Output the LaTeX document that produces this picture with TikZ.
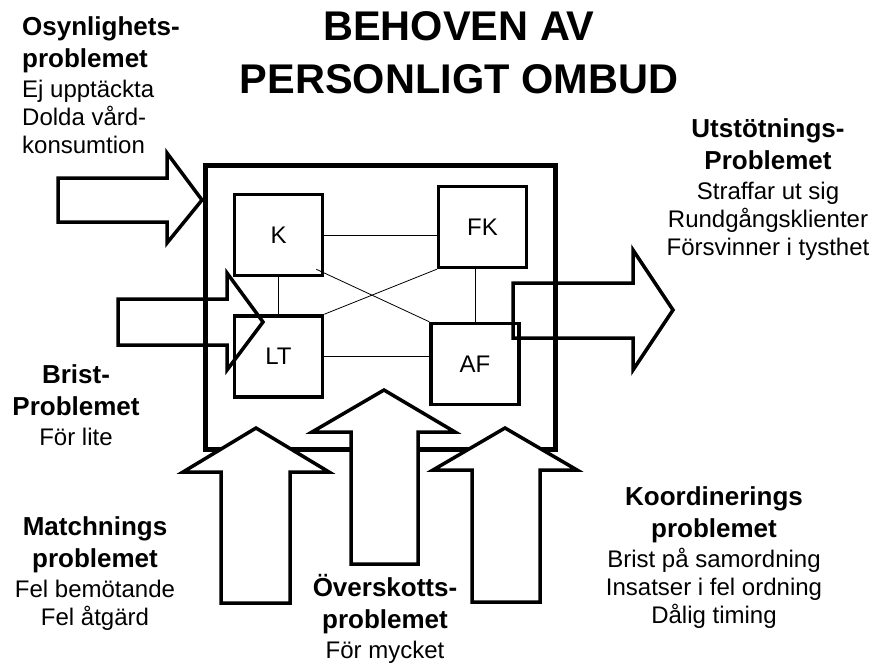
\documentclass[tikz,border=0pt]{standalone}
\usepackage{fontspec}
\setmainfont{Liberation Sans}
\newcommand{\hd}[1]{{\fontsize{26}{30}\selectfont\bfseries #1}}

\begin{document}
\begin{tikzpicture}[x=1pt, y=-1pt,
  lbl/.style={font=\fontsize{24}{28}\selectfont, inner sep=0pt, align=center, anchor=base},
  unit/.style={draw, line width=3.5pt, minimum width=88pt, minimum height=81pt, inner sep=0pt, font=\fontsize{24}{28}\selectfont},
  link/.style={line width=0.8pt},
  blockarrow/.style={line width=3.5pt, line join=miter},
  uparrow/.style={blockarrow, fill=white}]
\useasboundingbox (0,0) rectangle (872,664);
\draw (459,93) node[font=\fontsize{41.5}{53}\selectfont\bfseries, align=center, anchor=base, inner sep=0pt] (title) {BEHOVEN AV\\PERSONLIGT OMBUD};
\draw (380.5,307.5) node[draw, line width=5pt, minimum width=350pt, minimum height=284pt] (ombud) {}; % outer box
\draw (278.5,235) node[unit] (K) {K};
\draw (482.5,227) node[unit] (FK) {FK};
\draw (278.5,356.5) node[unit] (LT) {LT};
\draw (475,364) node[unit] (AF) {AF};
\draw [link] (K.east) to (K.east -| FK.west);
\draw [link] (K.south) to (LT.north);
\draw [link] (AF.north) to (AF.north |- FK.south);
\draw [link] (LT.east) to (LT.east -| AF.west);
\draw [link] ([shift={(-8pt,8pt)}]K.south east) to (AF.north west);
\draw [link] (LT.north east) to (FK.south west);
% arrows from the sides
\draw [blockarrow] (58,178) -- (167,178) -- (167,153) -- (202,200) -- (167,243) -- (167,222) -- (58,222) -- cycle;
\draw [blockarrow] (118,299) -- (227,299) -- (227,273) -- (263,322) -- (227,370) -- (227,345) -- (118,345) -- cycle;
\draw [blockarrow] (513,283) -- (633,283) -- (633,250) -- (673,310) -- (633,370) -- (633,338) -- (513,338) -- cycle;
% arrows from below
\draw [uparrow] (221,603) -- (221,472) -- (183,472) -- (256,428) -- (329,472) -- (290,472) -- (290,603) -- cycle;
\draw [uparrow] (351,564) -- (351,432) -- (312,432) -- (384,390) -- (455,432) -- (418,432) -- (418,564) -- cycle;
\draw [uparrow] (472,602) -- (472,470) -- (433,470) -- (505,428) -- (577,470) -- (540,470) -- (540,602) -- cycle;
% problem labels (anchored at last line)
\draw (22,153) node[lbl, align=left, anchor=base west] (osyn) {\hd{Osynlighets-}\\[4pt]\hd{problemet}\\[2pt]Ej upptäckta\\Dolda vård-\\konsumtion};
\draw (768,255) node[lbl] (utst) {\hd{Utstötnings-}\\[4pt]\hd{Problemet}\\[2pt]Straffar ut sig\\Rundgångsklienter\\Försvinner i tysthet};
\draw (76,445) node[lbl] (brist) {\hd{Brist-}\\[4pt]\hd{Problemet}\\[2pt]För lite};
\draw (95,625) node[lbl] (match) {\hd{Matchnings}\\[4pt]\hd{problemet}\\[2pt]Fel bemötande\\Fel åtgärd};
\draw (385,658) node[lbl] (over) {\hd{Överskotts-}\\[4pt]\hd{problemet}\\[2pt]För mycket};
\draw (714,623) node[lbl] (koord) {\hd{Koordinerings}\\[4pt]\hd{problemet}\\[2pt]Brist på samordning\\Insatser i fel ordning\\Dålig timing};
\end{tikzpicture}
\end{document}
